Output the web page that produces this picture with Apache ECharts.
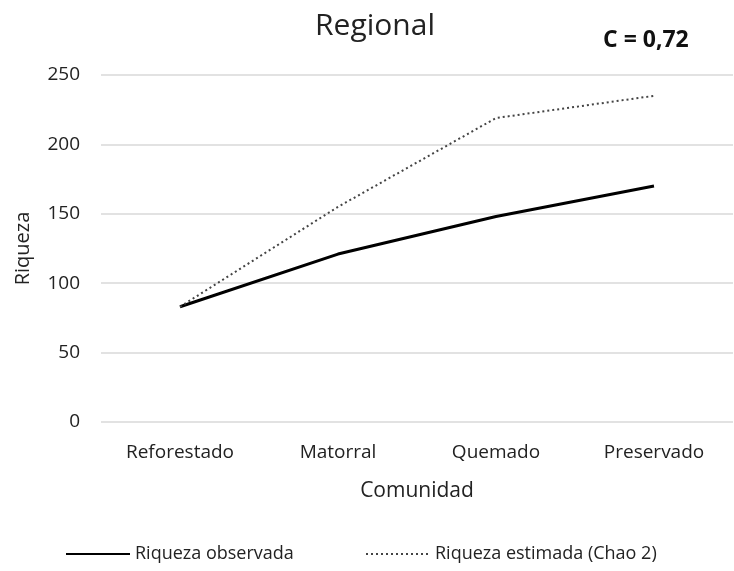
<!DOCTYPE html>
<html><head><meta charset="utf-8">
<script src="https://cdn.jsdelivr.net/npm/echarts@6/dist/echarts.min.js"></script>
<style>html,body{margin:0;padding:0;background:#fff}#c{width:734px;height:571px}</style>
</head><body><div id="c"></div>
<script>
const categories = ['Reforestado', 'Matorral', 'Quemado', 'Preservado'];
const observada = [83, 121, 148, 170];
const estimada = [83, 155, 219, 235];
const yTicks = [0, 50, 100, 150, 200, 250];
const FONT = '"Open Sans", "Noto Sans", sans-serif';
const chart = echarts.init(document.getElementById('c'), null, {renderer: 'canvas'});
const legendBase = {
  top: 540, itemWidth: 64, itemHeight: 10,
  itemStyle: {opacity: 0},
  textStyle: {fontSize: 18, color: '#222', fontFamily: FONT}
};
chart.setOption({
  animation: false,
  textStyle: {fontFamily: FONT},
  title: [
    {text: 'Regional', left: 370, top: 6, textAlign: 'center',
     textStyle: {fontSize: 30, fontWeight: 'normal', color: '#222', fontFamily: FONT}},
    {text: 'C = 0,72', left: 598, top: 24,
     textStyle: {fontSize: 23, fontWeight: 'bold', color: '#111', fontFamily: FONT}}
  ],
  grid: {left: 101, right: 1, top: 75, bottom: 149},
  legend: [
    Object.assign({}, legendBase, {left: 60, data: ['Riqueza observada']}),
    Object.assign({}, legendBase, {left: 360, data: ['Riqueza estimada (Chao 2)']})
  ],
  xAxis: {
    type: 'category', data: categories, boundaryGap: true,
    name: 'Comunidad', nameLocation: 'middle', nameGap: 59,
    nameTextStyle: {fontSize: 21, color: '#222', fontFamily: FONT},
    axisLine: {show: false}, axisTick: {show: false},
    axisLabel: {fontSize: 19, color: '#222', margin: 21, fontFamily: FONT}
  },
  yAxis: {
    type: 'value', min: yTicks[0], max: yTicks[yTicks.length - 1], interval: 50,
    name: 'Riqueza', nameLocation: 'middle', nameGap: 68, nameRotate: 90,
    nameTextStyle: {fontSize: 20, color: '#222', fontFamily: FONT},
    axisLine: {show: false}, axisTick: {show: false},
    axisLabel: {fontSize: 19, color: '#222', margin: 21, fontFamily: FONT},
    splitLine: {lineStyle: {color: '#d9d9d9', width: 1.5}}
  },
  series: [
    {name: 'Riqueza observada', type: 'line', data: observada, symbol: 'none',
     lineStyle: {color: '#000', width: 3, type: 'solid'}, itemStyle: {color: '#000'}},
    {name: 'Riqueza estimada (Chao 2)', type: 'line', data: estimada, symbol: 'none',
     lineStyle: {color: '#444', width: 2, type: [2, 3]}, itemStyle: {color: '#444'}}
  ]
});
</script></body></html>
